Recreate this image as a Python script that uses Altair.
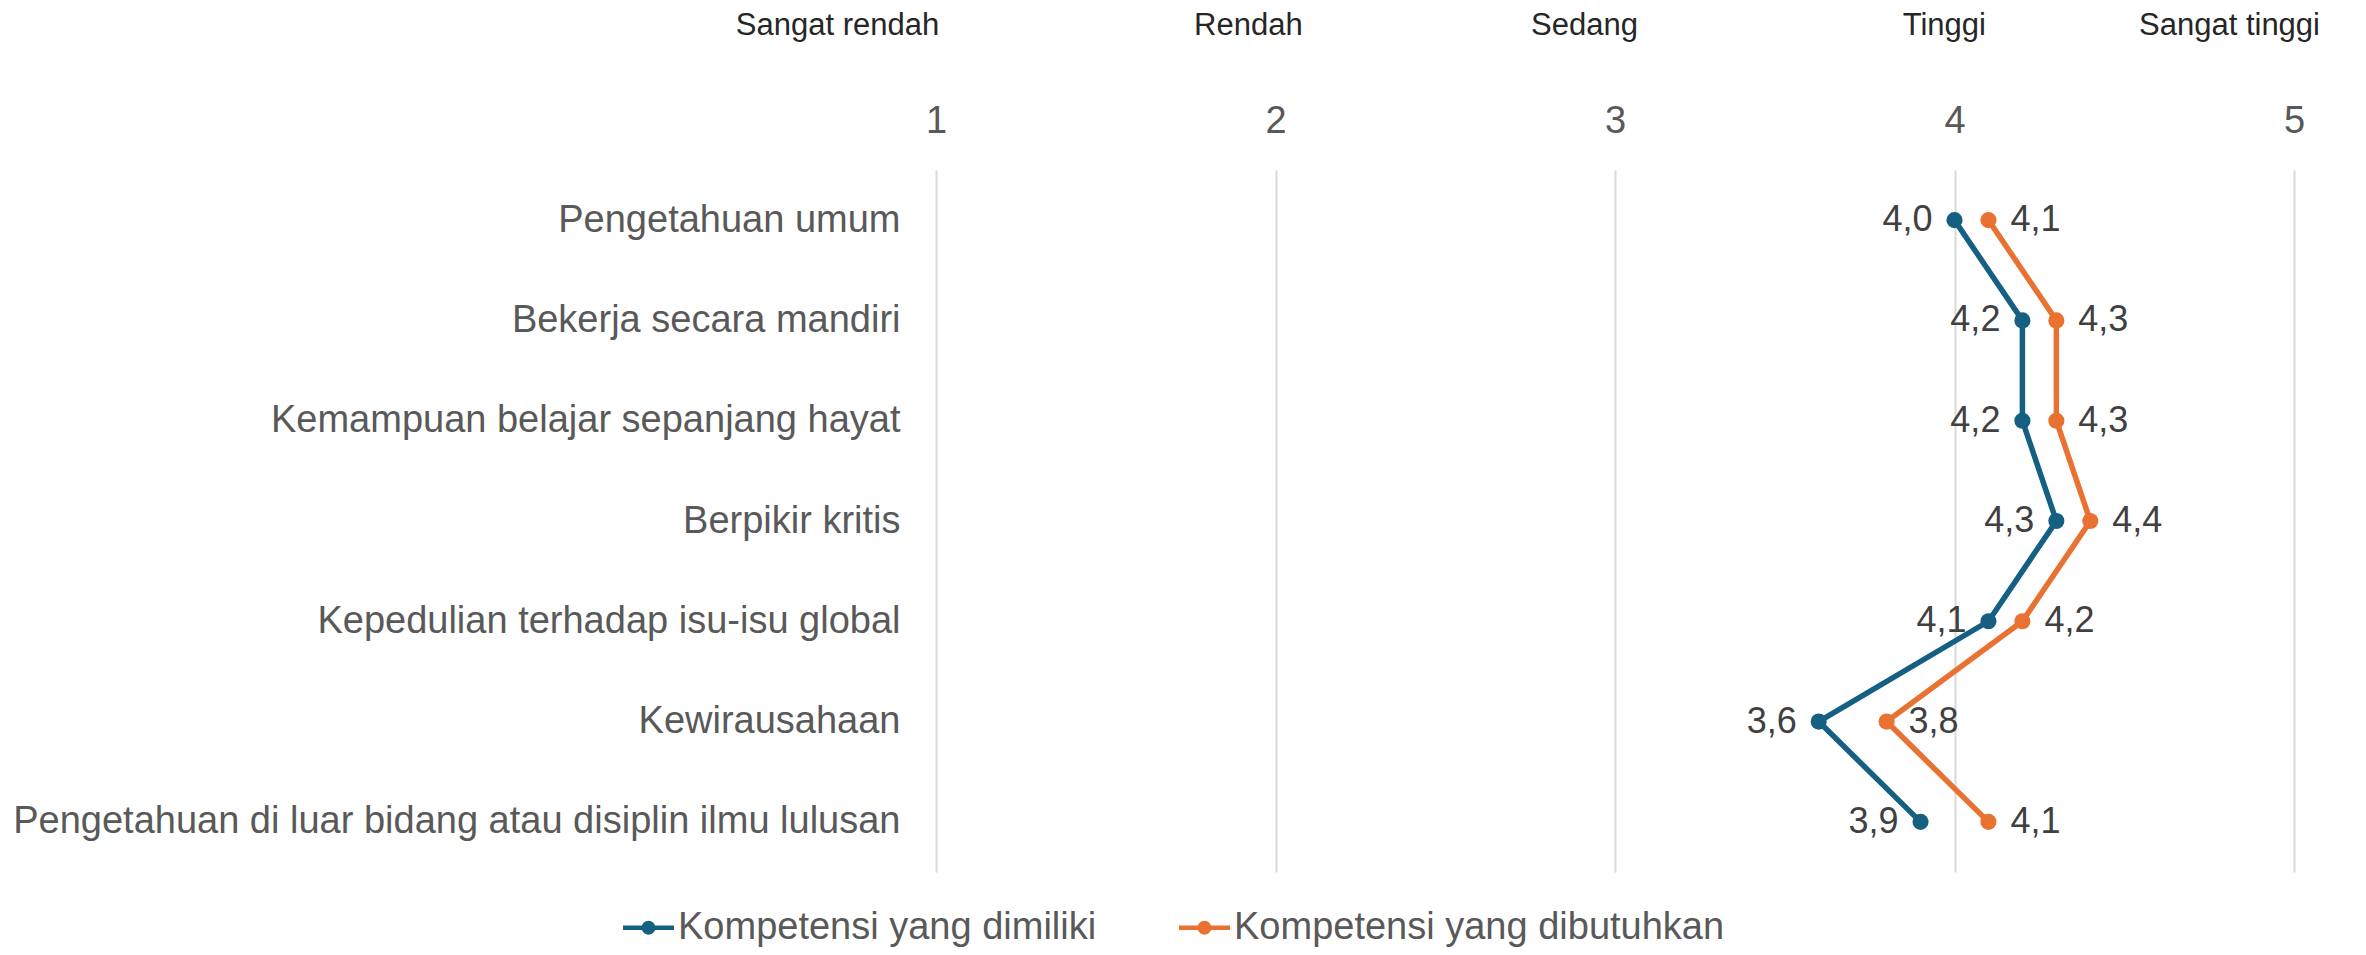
import altair as alt
import pandas as pd

categories = [
    "Pengetahuan umum",
    "Bekerja secara mandiri",
    "Kemampuan belajar sepanjang hayat",
    "Berpikir kritis",
    "Kepedulian terhadap isu-isu global",
    "Kewirausahaan",
    "Pengetahuan di luar bidang atau disiplin ilmu lulusan",
]
series_names = ["Kompetensi yang dimiliki", "Kompetensi yang dibutuhkan"]
dimiliki = [4.0, 4.2, 4.2, 4.3, 4.1, 3.6, 3.9]
dibutuhkan = [4.1, 4.3, 4.3, 4.4, 4.2, 3.8, 4.1]
colors = ["#156082", "#E97132"]

tick_values = [1, 2, 3, 4, 5]
header_labels = ["Sangat rendah", "Rendah", "Sedang", "Tinggi", "Sangat tinggi"]
header_pos = [0.71, 1.92, 2.91, 3.97, 4.81]

FONT = "Liberation Sans"

rows = []
for s, vals in zip(series_names, [dimiliki, dibutuhkan]):
    for c, v in zip(categories, vals):
        rows.append({"kategori": c, "seri": s, "nilai": v})
df = pd.DataFrame(rows)
hdr = pd.DataFrame({"label": header_labels, "nilai": header_pos})

x_scale = alt.Scale(domain=[1, 5], nice=False, zero=False)
y_scale = alt.Scale(type="point", padding=0.5)
x_axis = alt.Axis(orient="top", values=tick_values, format="d", title=None)
y_axis = alt.Axis(title=None)

x_enc = alt.X("nilai:Q", scale=x_scale, axis=x_axis)
y_enc = alt.Y("kategori:N", sort=categories, scale=y_scale, axis=y_axis)
color_scale = alt.Scale(domain=series_names, range=colors)

sym = "M-1,-0.09L1,-0.09L1,0.09L-1,0.09Z M0.27,0A0.27,0.27,0,1,1,-0.27,0A0.27,0.27,0,1,1,0.27,0Z"
legend = alt.Legend(
    title=None, orient="none", direction="horizontal",
    legendX=-313, legendY=732,
    symbolType=sym, symbolSize=2600, symbolStrokeWidth=0, symbolOpacity=1,
    labelFontSize=38, labelColor="#595959", labelFont=FONT, labelLimit=2000,
    labelOffset=4, columnPadding=82,
)

base = alt.Chart(df)

lines = base.mark_line(strokeWidth=5.5).encode(
    x=x_enc, y=y_enc,
    stroke=alt.Stroke("seri:N", scale=color_scale, legend=legend),
)

points = base.mark_point(filled=True, size=260, opacity=1).encode(
    x=x_enc, y=y_enc,
    color=alt.Color("seri:N", scale=color_scale, legend=legend),
)

fmt = "replace(format(datum.nilai, '.1f'), '.', ',')"
lab_left = base.transform_filter(alt.datum.seri == series_names[0]).transform_calculate(
    txt=fmt
).mark_text(align="right", baseline="middle", dx=-22, fontSize=36, color="#404040", font=FONT).encode(
    x=x_enc, y=y_enc, text="txt:N",
)
lab_right = base.transform_filter(alt.datum.seri == series_names[1]).transform_calculate(
    txt=fmt
).mark_text(align="left", baseline="middle", dx=22, fontSize=36, color="#404040", font=FONT).encode(
    x=x_enc, y=y_enc, text="txt:N",
)

headers = alt.Chart(hdr).mark_text(
    align="center", baseline="middle", fontSize=31, color="#262626", font=FONT
).encode(
    x=x_enc,
    y=alt.value(-144),
    text="label:N",
)

chart = (
    alt.layer(lines, points, lab_left, lab_right, headers)
    .properties(
        width=1358, height=702,
        autosize=alt.AutoSizeParams(type="none"),
        padding={"left": 928, "top": 162, "right": 64, "bottom": 75},
        background="white",
    )
    .configure(font=FONT)
    .configure_view(strokeWidth=0)
    .configure_axisX(
        ticks=False, domain=False, labelFontSize=38, labelColor="#595959",
        labelPadding=30, labelFont=FONT, labelFlush=False,
        gridColor="#D9D9D9", gridWidth=2, grid=True,
    )
    .configure_axisY(
        ticks=False, domain=False, grid=False, labelFontSize=38, labelColor="#595959",
        labelPadding=36, labelLimit=2000, labelFont=FONT,
    )
)

chart.save("out.html", embed_options={"renderer": "svg", "actions": False})
